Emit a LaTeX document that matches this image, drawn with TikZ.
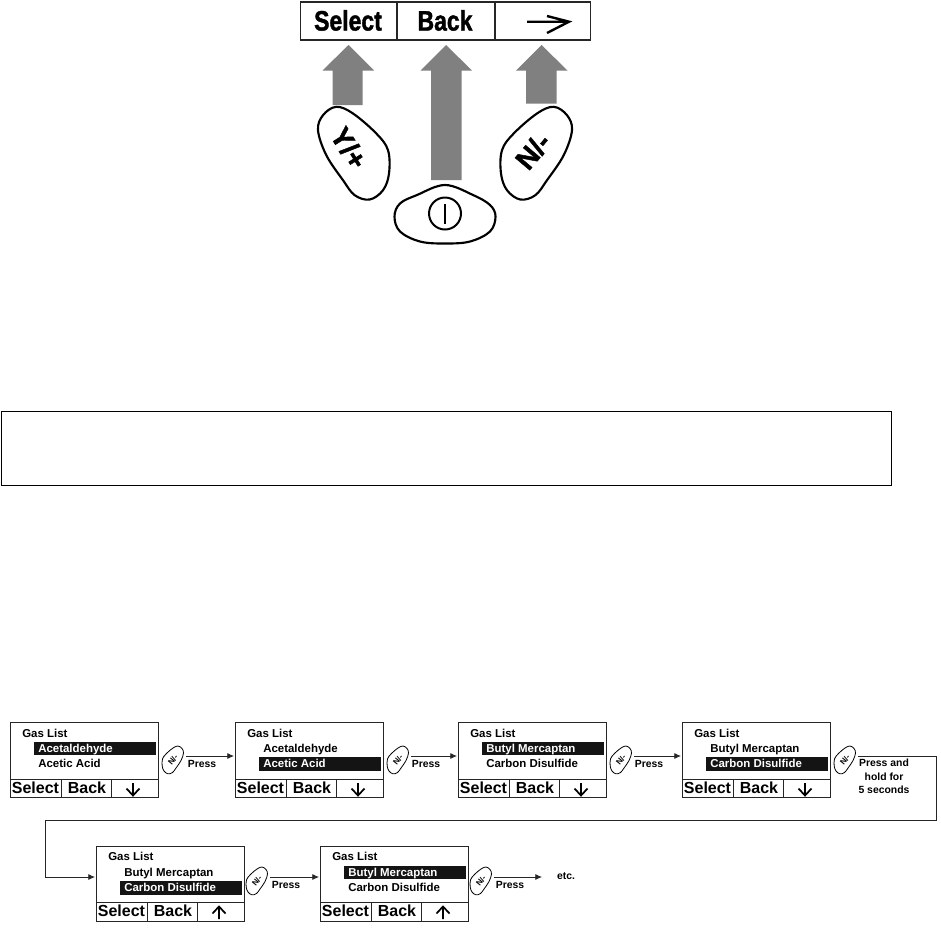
\documentclass[tikz,border=0pt]{standalone}
\usepackage{fontspec}
\setmainfont{Liberation Sans}
\newfontfamily\heavy[BoldFeatures={FakeBold=1.6}]{Liberation Sans}
\usetikzlibrary{arrows.meta}
\tikzset{
  x=.75pt,y=-.75pt,
  frameline/.style={draw=black!85,line width=.75pt},
  gastxt/.style={font=\fontsize{8.6}{10}\selectfont\bfseries,anchor=base west,inner sep=0pt},
  softkey/.style={font=\fontsize{12}{14}\selectfont\bfseries,anchor=base,inner sep=0pt},
  press/.style={font=\fontsize{7.8}{9.9}\selectfont\bfseries,inner sep=0pt,align=center},
  flow/.style={draw=black!85,line width=.6pt,-{Latex[length=5pt,width=4.5pt]}},
  bigkey/.style={font=\fontsize{21}{24}\selectfont\heavy\bfseries,inner sep=0pt},
  bartext/.style={font=\fontsize{21}{24}\selectfont\heavy\bfseries,inner sep=0pt,xscale=.82,anchor=base},
  greyarrow/.style={fill=black!50,draw=none},
}
\def\btnpts{(35,-23.3)(30,-38.3)(16.7,-46.7)(0,-40)(-23.3,-20)(-35,-3.3)(-36,20)(-30,36.7)(-16.7,46)(-1.7,41.7)(10,26.7)(26.7,1.7)}
% name, x, y, line1, line2, highlighted line, arrow direction (1 = down, -1 = up), y of entry
\newcommand\gaspanel[8]{%
  \begin{scope}[shift={(#2,#3)}]
    \node[frameline,anchor=north west,minimum width=111pt,minimum height=56.5pt,inner sep=0pt] (#1) at (0,0) {};
    \draw[frameline] (0,57) -- (148,57) (51,57) -- (51,75) (101,57) -- (101,75);
    \coordinate (#1in) at (-1,#8);
    \ifnum#6=1
      \fill[black!92] (24,20) rectangle (146,33);
      \node[gastxt,text=white] (#1a) at (28,30.7) {#4};
      \node[gastxt] (#1b) at (28,45.7) {#5};
    \else
      \fill[black!92] (24,35) rectangle (146,49);
      \node[gastxt] (#1a) at (28,30.7) {#4};
      \node[gastxt,text=white] (#1b) at (28,45.7) {#5};
    \fi
    \node[gastxt] (#1t) at (12,15) {Gas List};
    \node[softkey] (#1s) at (25.5,71) {Select};
    \node[softkey] (#1k) at (77,71) {Back};
    \ifnum#7=1
      \draw[line width=1.3pt] (123,61) -- (123,73.5) (116.5,66.5) -- (123,73.5) -- (129.5,66.5);
    \else
      \draw[line width=1.3pt] (123,73.5) -- (123,61) (116.5,68) -- (123,61) -- (129.5,68);
    \fi
  \end{scope}}
\newcommand\smallbtn[3]{%
  \begin{scope}[shift={(#2,#3)},scale=.3]
    \draw[line width=.6pt,fill=white] plot[smooth cycle,tension=.6] coordinates {\btnpts};
  \end{scope}
  \node[font=\fontsize{6}{7}\selectfont\bfseries,rotate=52,inner sep=0pt] (#1) at (#2,#3) {N/-};
  \coordinate (#1out) at (#2+13,#3-4);}
\begin{document}
\begin{tikzpicture}
\useasboundingbox (0,0) rectangle (941,929);
\fill[white] (0,0) rectangle (941,929);

% top soft-key bar
\draw[line width=1.3pt,draw=black!85] (300.5,2) rectangle (590.5,40);
\draw[line width=1.3pt,draw=black!85] (397,2) -- (397,40) (495,2) -- (495,40);
\node[bartext] (selbig) at (348,30.5) {Select};
\node[bartext] (backbig) at (445,30.5) {Back};
\coordinate (arrA) at (527,21.7);
\coordinate (arrB) at (569,21.7);
\draw[line width=1.8pt] (arrA) -- (arrB) (547,16) -- (569,21.7) -- (547,33);

% grey arrows
\fill[greyarrow] (348.5,45) -- (374,70.5) -- (362.5,70.5) -- (362.5,105) -- (332.5,105) -- (332.5,70.5) -- (322.5,70.5) -- cycle;
\fill[greyarrow] (446,45) -- (472,70.5) -- (461.5,70.5) -- (461.5,180) -- (431,180) -- (431,70.5) -- (420.5,70.5) -- cycle;
\fill[greyarrow] (541.5,45) -- (567.5,70.5) -- (556.5,70.5) -- (556.5,103.5) -- (526,103.5) -- (526,70.5) -- (516,70.5) -- cycle;

% big buttons
\begin{scope}[shift={(537,153.5)}]
  \draw[line width=1.6pt,fill=white] plot[smooth cycle,tension=.6] coordinates {\btnpts};
\end{scope}
\begin{scope}[shift={(353,153.5)},xscale=-1]
  \draw[line width=1.6pt,fill=white] plot[smooth cycle,tension=.6] coordinates {\btnpts};
\end{scope}
\draw[line width=1.6pt,fill=white] plot[smooth cycle,tension=.6] coordinates {(394.5,216.5)(400,203.5)(417,195)(445,185)(473,195)(490,205)(495.5,216.5)(490,231.5)(470,241.5)(445,243.5)(420,241.5)(400,231.5)};
\node[bigkey,rotate=-58] (ykey) at (349,148) {Y/+};
\node[bigkey,rotate=50] (nkey) at (533,151) {N/-};
\node[draw,circle,line width=1.5pt,minimum size=24pt,inner sep=0pt] (pwr) at (445,213.5) {};
\draw[line width=1.7pt] (445,204) -- (445,224);

% empty framed box
\node[draw=black,line width=.6pt,anchor=north west,minimum width=667.5pt,minimum height=55.5pt,inner sep=0pt] (notebox) at (1,411) {};

% panels
\gaspanel{pa}{10}{722}{Acetaldehyde}{Acetic Acid}{1}{1}{34}
\gaspanel{pb}{235}{722}{Acetaldehyde}{Acetic Acid}{2}{1}{34}
\gaspanel{pc}{458}{722}{Butyl Mercaptan}{Carbon Disulfide}{1}{1}{34}
\gaspanel{pd}{682}{722}{Butyl Mercaptan}{Carbon Disulfide}{2}{1}{34}
\gaspanel{pe}{96}{845.5}{Butyl Mercaptan}{Carbon Disulfide}{2}{-1}{31.5}
\gaspanel{pf}{320}{845.5}{Butyl Mercaptan}{Carbon Disulfide}{1}{-1}{31.5}

% buttons
\smallbtn{ba}{173}{760}
\smallbtn{bb}{398}{760}
\smallbtn{bc}{621}{760}
\smallbtn{bd}{845}{760}
\smallbtn{be}{257}{881}
\smallbtn{bf}{481}{881}

% connectors
\draw[flow] (baout) -- (pbin);
\draw[flow] (bbout) -- (pcin);
\draw[flow] (bcout) -- (pdin);
\coordinate (r1) at (936,756);
\coordinate (r2) at (936,820);
\coordinate (r3) at (45.5,820);
\coordinate (r4) at (45.5,877);
\draw[flow] (bdout) -- (r1) -- (r2) -- (r3) -- (r4) -- (pein);
\draw[flow] (beout) -- (pfin);
\coordinate (fin) at (542,877);
\draw[flow] (bfout) -- (fin);

% labels
\node[press] (la) at (202,764) {Press};
\node[press] (lb) at (426,764) {Press};
\node[press] (lc) at (649,764) {Press};
\node[press,anchor=north] (ld) at (884,759) {Press and\\hold for\\5 seconds};
\node[press] (le) at (286,885) {Press};
\node[press] (lf) at (510,885) {Press};
\node[press] (etc) at (566,876) {etc.};
\end{tikzpicture}
\end{document}
